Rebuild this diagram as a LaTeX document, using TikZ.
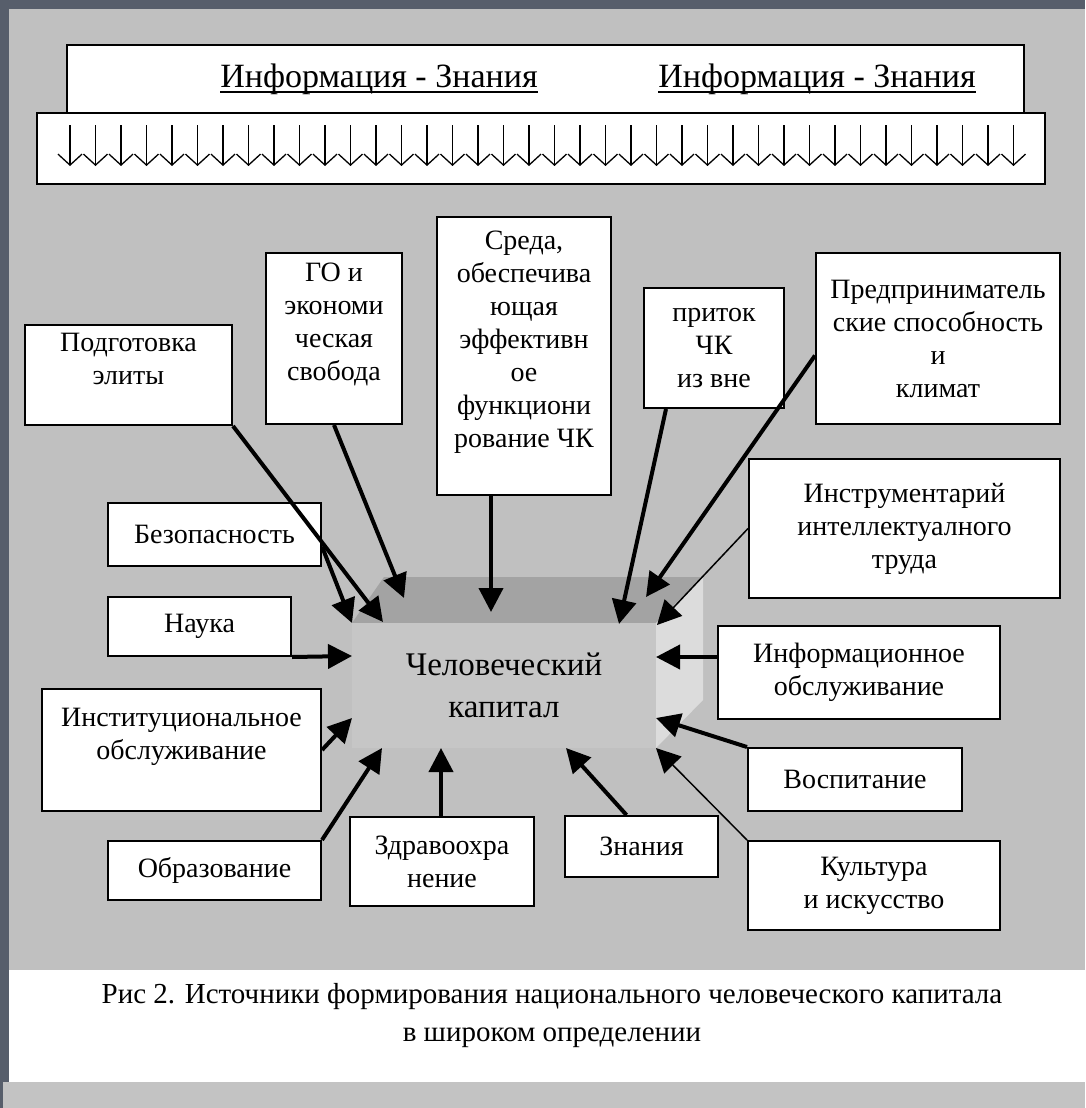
\documentclass[tikz,border=0pt]{standalone}
\usepackage{fontspec}
\setmainfont{Liberation Serif}
\usetikzlibrary{arrows.meta}

\definecolor{ramka}{HTML}{575E6B}
\definecolor{fon}{HTML}{C0C0C0}
\definecolor{niz}{HTML}{C3C3C3}
\definecolor{licevaya}{HTML}{C6C6C6}
\definecolor{verhgran}{HTML}{A3A3A3}
\definecolor{bokgran}{HTML}{DCDCDC}

\newcommand{\shriftblok}{\fontsize{28}{33}\selectfont}
\newcommand{\shriftkap}{\fontsize{33}{42}\selectfont}
\newcommand{\shriftverh}{\fontsize{34}{40}\selectfont}
\newcommand{\shriftpodp}{\fontsize{29}{38}\selectfont}
\newcommand{\podcherk}[1]{\setbox0\hbox{#1}\rlap{\rule[-5pt]{\wd0}{1.6pt}}\box0}

\begin{document}
\begin{tikzpicture}[x=1pt,y=-1pt,
    blok/.style={draw=black,line width=2pt,fill=white,inner sep=0pt,align=center,font=\shriftblok},
    strelka/.style={line width=4pt,-{Triangle[length=24pt,width=24pt]}},
    tonkaya/.style={strelka,line width=1.5pt},
    vniz/.style={line width=1.3pt,-{Straight Barb[length=11pt,width=24pt]}}]
            \useasboundingbox (0,0) rectangle (1085,1108);

            %fon
            \fill[ramka] (0,0) rectangle (1085,1108);
            \fill[fon] (9,9) rectangle (1085,970);
            \fill[white] (9,970) rectangle (1085,1082);
            \fill[niz] (3,1082) rectangle (1085,1108);

            %verh: informaciya - znaniya
            \node[blok,minimum width=957pt,minimum height=68pt] (verh) at (545.5,79) {};
            \node[blok,minimum width=1008pt,minimum height=71pt] (strelki) at (541,148.5) {};
            \node[font=\shriftverh,anchor=base] (inf1) at (379,88) {\podcherk{Информация - Знания}};
            \node[font=\shriftverh,anchor=base] (inf2) at (817,88) {\podcherk{Информация  - Знания}};
            \foreach \i in {0,...,37}
                \draw[vniz] ({70+25.5*\i},125) -- ({70+25.5*\i},166);

            %chelovecheskiy kapital
            \fill[verhgran] (352,623) -- (384,577) -- (703,577) -- (656,623) -- cycle;
            \fill[bokgran] (656,623) -- (703,577) -- (703,700) -- (656,748) -- cycle;
            \node[fill=licevaya,minimum width=304pt,minimum height=125pt,inner sep=0pt,align=center,font=\shriftkap] (kapital) at (504,685.5) {Человеческий\\капитал};

            %istochniki
            \node[blok,minimum width=207pt,minimum height=100pt] (podg) at (128.5,375) {Подготовка\\элиты\\\mbox{}};
            \node[blok,minimum width=136pt,minimum height=171pt] (go) at (334,338.5) {ГО и\\экономи\\ческая\\свобода\\\mbox{}};
            \node[blok,minimum width=174pt,minimum height=278pt] (sreda) at (524,356) {Среда,\\обеспечива\\ющая\\эффективн\\ое\\функциони\\рование ЧК\\\mbox{}};
            \node[blok,minimum width=140pt,minimum height=120pt] (pritok) at (714,348) {приток\\ЧК\\из вне};
            \node[blok,minimum width=244pt,minimum height=171pt] (predpr) at (938,338.5) {Предприниматель\\ские способность\\и\\климат};
            \node[blok,minimum width=311pt,minimum height=139pt] (instr) at (904.5,528.5) {Инструментарий\\интеллектуалного\\труда};
            \node[blok,minimum width=213pt,minimum height=63pt] (bezop) at (214.5,534.5) {Безопасность};
            \node[blok,minimum width=183pt,minimum height=59pt] (nauka) at (199.5,626.5) {Наука};
            \node[blok,minimum width=279pt,minimum height=122pt] (instit) at (181.5,750) {Институциональное\\обслуживание\\\mbox{}};
            \node[blok,minimum width=213pt,minimum height=59pt] (obraz) at (214.5,870.5) {Образование};
            \node[blok,minimum width=184pt,minimum height=89pt] (zdrav) at (442,861.5) {Здравоохра\\нение};
            \node[blok,minimum width=153pt,minimum height=61pt] (znan) at (641.5,846.5) {Знания};
            \node[blok,minimum width=282pt,minimum height=93pt] (inform) at (859,672.5) {Информационное\\обслуживание};
            \node[blok,minimum width=214pt,minimum height=63pt] (vospit) at (855,779.5) {Воспитание};
            \node[blok,minimum width=252pt,minimum height=89pt] (kult) at (874,885.5) {Культура\\и искусство};

            %podpis
            \node[font=\shriftpodp,align=center] (podpis) at (552,1016) {Рис 2. Источники формирования национального человеческого капитала\\в широком определении};

            %tochki na kapitale
            \coordinate (v-podg) at (383,622);
            \coordinate (v-go) at (404,598);
            \coordinate (v-sreda) at (491,612);
            \coordinate (v-pritok) at (619,624);
            \coordinate (v-predpr) at (646,597);
            \coordinate (v-instr) at (657,625);
            \coordinate (v-inform) at (656,657);
            \coordinate (v-vospit) at (656,718);
            \coordinate (v-kult) at (656,748);
            \coordinate (v-znan) at (566,748);
            \coordinate (v-zdrav) at (441,748);
            \coordinate (v-obraz) at (382,748);
            \coordinate (v-instit) at (352,718);
            \coordinate (v-bezop) at (352,623);
            \coordinate (v-nauka) at (352,656);

            %strelki k kapitalu
            \draw[strelka] (podg.south east) -- (v-podg);
            \draw[strelka] (go.south) -- (v-go);
            \draw[strelka] (v-sreda |- sreda.south) -- (v-sreda);
            \draw[strelka] ([xshift=-48pt]pritok.south) -- (v-pritok);
            \draw[strelka] ([yshift=-17pt]predpr.west) -- (v-predpr);
            \draw[tonkaya] (instr.west) -- (v-instr);
            \draw[strelka] (v-inform -| inform.west) -- (v-inform);
            \draw[strelka] (vospit.north west) -- (v-vospit);
            \draw[tonkaya] (kult.north west) -- (v-kult);
            \draw[strelka] ([xshift=-15pt]znan.north) -- (v-znan);
            \draw[strelka] (v-zdrav |- zdrav.north) -- (v-zdrav);
            \draw[strelka] (obraz.north east) -- (v-obraz);
            \draw[strelka] (instit.east) -- (v-instit);
            \draw[strelka] ([yshift=-12pt]bezop.east) -- (v-bezop);
            \draw[strelka] (nauka.south east) -- (v-nauka);
        \end{tikzpicture}
\end{document}
